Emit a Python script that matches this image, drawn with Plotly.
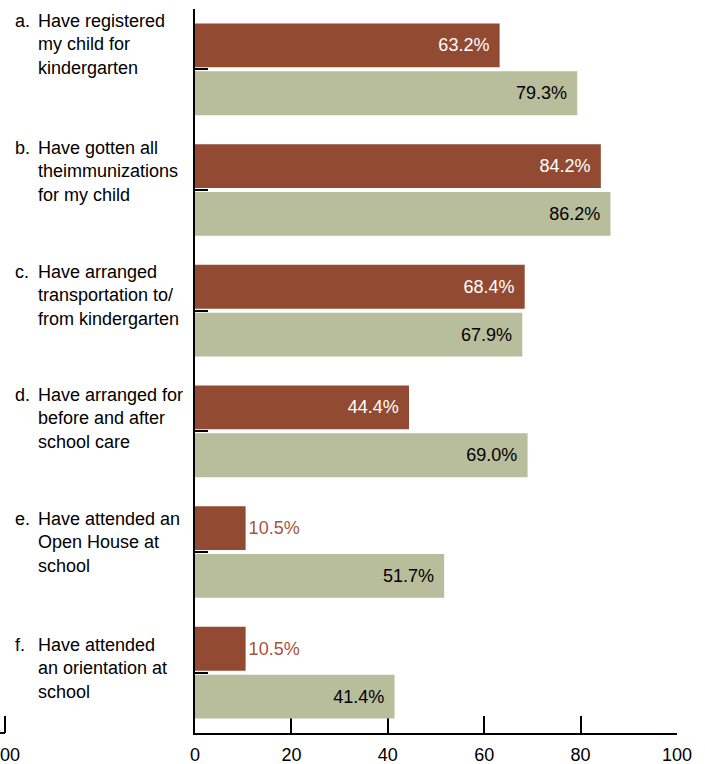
import plotly.graph_objects as go

# Kindergarten readiness steps (two survey groups)
prefixes = ["a.", "b.", "c.", "d.", "e.", "f."]
label_lines = [
    ["Have registered", "my child for", "kindergarten"],
    ["Have gotten all", "theimmunizations", "for my child"],
    ["Have arranged", "transportation to/", "from kindergarten"],
    ["Have arranged for", "before and after", "school care"],
    ["Have attended an", "Open House at", "school"],
    ["Have attended", "an orientation at", "school"],
]
categories = [p + " " + " ".join(l) for p, l in zip(prefixes, label_lines)]

group_a = [63.2, 84.2, 68.4, 44.4, 10.5, 10.5]
group_b = [79.3, 86.2, 67.9, 69.0, 51.7, 41.4]

x_ticks = [0, 20, 40, 60, 80, 100]

# Layout: plot box in pixels and the top of each label block
W, H = 705, 764
ML, MR, MT, MB = 195, 28, 9, 31
PW, PH = W - ML - MR, H - MT - MB
label_top_px = [9, 136, 260, 383, 507, 633]

BROWN = "#934a32"
SAGE = "#b8bd9b"
BROWN_TEXT = "#a4553d"
FONT = "Liberation Sans, Arial, sans-serif"
FS = 18


def px_x(px):
    return (px - ML) / PW


def px_y(py):
    return 1 - (py - MT) / PH


def text_style(values, inside_color, outside_color, threshold=20):
    pos = ["inside" if v >= threshold else "outside" for v in values]
    col = [inside_color if v >= threshold else outside_color for v in values]
    return pos, col


a_pos, a_col = text_style(group_a, "white", BROWN_TEXT)
b_pos, b_col = text_style(group_b, "black", "black")

fig = go.Figure()
fig.add_trace(go.Bar(
    y=categories, x=group_a, orientation="h",
    marker=dict(color=BROWN, line=dict(width=0)),
    text=[f"{v:.1f}%\u2009\u2009" if p == "inside" else f"{v:.1f}%" for v, p in zip(group_a, a_pos)],
    textposition=a_pos, insidetextanchor="end",
    textfont=dict(family=FONT, size=FS, color=a_col),
    cliponaxis=False, hoverinfo="skip", showlegend=False,
))
fig.add_trace(go.Bar(
    y=categories, x=group_b, orientation="h",
    marker=dict(color=SAGE, line=dict(width=0)),
    text=[f"{v:.1f}%\u2009\u2009" for v in group_b],
    textposition=b_pos, insidetextanchor="end",
    textfont=dict(family=FONT, size=FS, color=b_col),
    cliponaxis=False, hoverinfo="skip", showlegend=False,
))

# Category labels with hanging indent
for top, pre, lines in zip(label_top_px, prefixes, label_lines):
    fig.add_annotation(
        xref="paper", yref="paper", x=px_x(13), y=px_y(top),
        xanchor="left", yanchor="top",
        text=pre, showarrow=False, align="left",
        font=dict(family=FONT, size=FS, color="black"),
    )
    fig.add_annotation(
        xref="paper", yref="paper", x=px_x(36), y=px_y(top),
        xanchor="left", yanchor="top",
        text="<br>".join(lines), showarrow=False, align="left",
        font=dict(family=FONT, size=FS, color="black"),
    )

# Right end of the neighbouring panel's axis, cut by the page edge
fig.add_shape(type="line", xref="paper", yref="paper",
              x0=-0.45, x1=px_x(5), y0=0, y1=0,
              line=dict(color="black", width=2))
fig.add_shape(type="line", xref="paper", yref="paper",
              x0=px_x(5), x1=px_x(5), y0=0, y1=17 / PH,
              line=dict(color="black", width=2))
fig.add_annotation(
    xref="paper", yref="paper", x=px_x(5), y=0,
    xanchor="center", yanchor="top", yshift=-10,
    text="100", showarrow=False,
    font=dict(family=FONT, size=FS, color="black"),
)

fig.update_layout(
    width=W, height=H,
    margin=dict(l=ML, r=MR, t=MT, b=MB, autoexpand=False),
    paper_bgcolor="white", plot_bgcolor="white",
    barmode="group", bargap=0.207, bargroupgap=0.084,
    font=dict(family=FONT, size=FS, color="black"),
    uniformtext=dict(mode=False),
)
fig.update_xaxes(
    range=[0, 100], tickvals=x_ticks, ticktext=[str(t) for t in x_ticks],
    ticks="inside", ticklen=17, tickwidth=2, tickcolor="black",
    showline=True, linecolor="black", linewidth=2,
    showgrid=False, zeroline=False, layer="below traces",
    ticklabelstandoff=4, automargin=False,
    tickfont=dict(family=FONT, size=FS, color="black"),
)
fig.update_yaxes(
    type="category", categoryorder="array", categoryarray=categories,
    autorange="reversed", automargin=False,
    ticks="inside", ticklen=13, tickwidth=2, tickcolor="black",
    showline=True, linecolor="black", linewidth=2,
    showticklabels=False, showgrid=False, zeroline=False,
    layer="below traces",
)

fig.write_html("out.html")
